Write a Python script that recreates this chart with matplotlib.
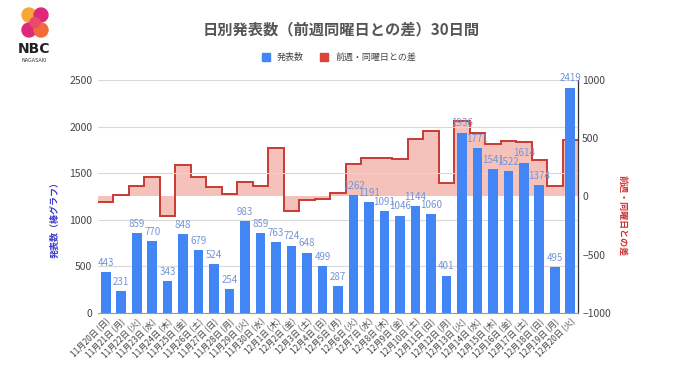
"""
日別発表数（前週同曜日との差）30日間 - NBC長崎
棒グラフ: 発表数 / 段差グラフ: 前週・同曜日との差
"""

import numpy as np
import matplotlib
matplotlib.use("Agg")
import matplotlib.pyplot as plt
from matplotlib.patches import Circle, Rectangle

plt.rcParams['font.family'] = ['Noto Sans CJK JP', 'DejaVu Sans']

dates = ["11月20日 (日)", "11月21日 (月)", "11月22日 (火)", "11月23日 (水)", "11月24日 (木)",
         "11月25日 (金)", "11月26日 (土)", "11月27日 (日)", "11月28日 (月)", "11月29日 (火)",
         "11月30日 (水)", "12月1日 (木)", "12月2日 (金)", "12月3日 (土)", "12月4日 (日)",
         "12月5日 (月)", "12月6日 (火)", "12月7日 (水)", "12月8日 (木)", "12月9日 (金)",
         "12月10日 (土)", "12月11日 (日)", "12月12日 (月)", "12月13日 (火)", "12月14日 (水)",
         "12月15日 (木)", "12月16日 (金)", "12月17日 (土)", "12月18日 (日)", "12月19日 (月)",
         "12月20日 (火)"]

counts = [443, 231, 859, 770, 343, 848, 679, 524, 254, 983,
          859, 763, 724, 648, 499, 287, 1262, 1191, 1091, 1046,
          1144, 1060, 401, 1936, 1771, 1541, 1522, 1614, 1374, 495,
          2419]

diffs = [-51, 9, 94, 171, -165, 272, 166, 81, 23, 124,
         89, 420, -124, -31, -25, 33, 279, 332, 328, 322,
         496, 561, 114, 645, 545, 450, 476, 470, 314, 94,
         483]

BLUE = "#4285F4"
RED = "#C93A33"
LABEL_BLUE = "#7595d6"
TEXT = "#444444"

fig = plt.figure(figsize=(6.8, 3.82), dpi=100)
ax = fig.add_axes([98 / 680, 1 - 313 / 382, 480 / 680, 233 / 382])
ax2 = ax.twinx()

x = np.arange(len(counts))

# 前週との差（段差・塗り）
edges = np.arange(len(diffs) + 1) - 0.5
ax2.stairs(diffs, edges, baseline=0, fill=True, color="#f4b6b0", alpha=0.85, zorder=1)
ax2.stairs(diffs, edges, baseline=None, color=RED, linewidth=1.4, zorder=2)
ax2.set_ylim(-1000, 1000)
ax2.set_yticks([-1000, -500, 0, 500, 1000])

# 発表数（棒）
ax.set_zorder(ax2.get_zorder() + 1)
ax.patch.set_visible(False)
ax.bar(x, counts, width=0.62, color=BLUE, zorder=3)
for xi, v in zip(x, counts):
    ax.annotate(str(v), (xi, v), textcoords="offset points", xytext=(0, 3),
                ha="center", va="bottom", fontsize=7, color=LABEL_BLUE, zorder=4)

ax.set_xlim(-0.5, len(counts) - 0.5)
ax.set_ylim(0, 2500)
ax.set_yticks([0, 500, 1000, 1500, 2000, 2500])
ax.yaxis.grid(True, color="#d9d9d9", linewidth=0.8)
ax.set_axisbelow(True)
ax.set_xticks(x)
ax.set_xticklabels(dates, rotation=45, ha="right", rotation_mode="anchor",
                   fontsize=6, color=TEXT)
ax.tick_params(axis="x", length=0, pad=3)
ax.tick_params(axis="y", length=0, labelsize=7.5, labelcolor=TEXT, pad=4)
ax2.tick_params(axis="y", length=0, labelsize=7.5, labelcolor=TEXT, pad=3)

for a in (ax, ax2):
    a.spines["top"].set_visible(False)
    a.spines["left"].set_visible(False)
    a.spines["right"].set_visible(False)
    a.spines["bottom"].set_visible(False)
ax2.spines["right"].set_visible(True)
ax2.spines["right"].set_color("#333333")
ax2.spines["right"].set_linewidth(0.9)
ax.spines["bottom"].set_visible(True)
ax.spines["bottom"].set_color("#999999")

# 軸ラベル
fig.text(55 / 680, 1 - 218 / 382, "発表数（棒グラフ）", rotation=90, ha="center",
         va="center", fontsize=6.5, color="#3a3acc", fontweight="bold")
fig.text(622 / 680, 1 - 216 / 382, "前週・同曜日との差", rotation=270, ha="center",
         va="center", fontsize=6.5, color="#d03030", fontweight="bold")

# タイトル・凡例
fig.text(341 / 680, 1 - 29 / 382, "日別発表数（前週同曜日との差）30日間", ha="center",
         va="center", fontsize=11, color="#555555", fontweight="bold")
fig.patches.append(Rectangle((262 / 680, 1 - 61 / 382), 8 / 680, 8 / 382,
                             transform=fig.transFigure, color=BLUE))
fig.text(277 / 680, 1 - 57 / 382, "発表数", ha="left", va="center", fontsize=6.5, color=TEXT)
fig.patches.append(Rectangle((320 / 680, 1 - 61 / 382), 8 / 680, 8 / 382,
                             transform=fig.transFigure, color="#DB4437"))
fig.text(335 / 680, 1 - 57 / 382, "前週・同曜日との差", ha="left", va="center",
         fontsize=6.5, color=TEXT)

# ロゴ
lax = fig.add_axes([20 / 680, 1 - 40 / 382, 30 / 680, 34 / 382])
lax.set_xlim(0, 30)
lax.set_ylim(0, 34)
lax.set_aspect("equal")
lax.axis("off")
lax.add_patch(Circle((9, 25), 7, color="#f7a738"))
lax.add_patch(Circle((21, 25), 7, color="#e0287a"))
lax.add_patch(Circle((9, 10), 7, color="#e0287a"))
lax.add_patch(Circle((21, 10), 7, color="#f26a3a"))
lax.add_patch(Circle((15, 17.5), 5, color="#ea4a6a"))
fig.text(34 / 680, 1 - 49 / 382, "NBC", ha="center", va="center", fontsize=10,
         color="#222222", fontweight="bold", family="DejaVu Sans")
fig.text(34 / 680, 1 - 60 / 382, "NAGASAKI", ha="center", va="center", fontsize=3.5,
         color="#333333", family="DejaVu Sans")

fig.savefig("out.png", dpi=100)
